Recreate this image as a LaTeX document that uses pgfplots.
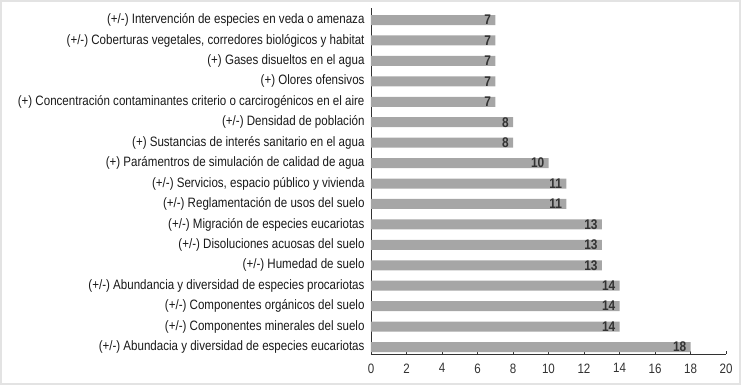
\documentclass[border=0pt]{standalone}
\usepackage{pgfplots}
\pgfplotsset{compat=1.18}
\usepackage{fontspec}
\setmainfont{Liberation Sans}[FakeStretch=0.85]
\definecolor{barc}{RGB}{166,166,166}
\definecolor{axc}{RGB}{50,50,50}
\definecolor{txt}{RGB}{25,25,25}
\begin{document}
\begin{tikzpicture}
\useasboundingbox (0,0) rectangle (741bp,385bp);
\draw[gray!22, line width=1.6bp] (0.8bp,0.8bp) rectangle (740.2bp,384.2bp);
\begin{axis}[
  at={(371bp,31bp)}, anchor=south west,
  scale only axis, width=355bp, height=346bp,
  xmin=0, xmax=20, ymin=-0.34, ymax=16.59,
  xbar, bar width=10bp, bar shift=0pt,
  axis x line=bottom, axis y line=left,
  axis line style={-, draw=axc, line width=0.8bp},
  xtick={0,2,...,20},
  tick align=inside, major tick length=3bp,
  x tick style={draw=axc, line width=0.8bp},
  ytick={0,...,16},
  y tick style={draw=none},
  yticklabels={
    {(+/-) Abundacia y diversidad de especies eucariotas},
    {(+/-) Componentes minerales del suelo},
    {(+/-) Componentes orgánicos del suelo},
    {(+/-) Abundancia y diversidad de especies procariotas},
    {(+/-) Humedad de suelo},
    {(+/-) Disoluciones acuosas del suelo},
    {(+/-) Migración de especies eucariotas},
    {(+/-) Reglamentación de usos del suelo},
    {(+/-) Servicios, espacio público y vivienda},
    {(+) Parámentros de simulación de calidad de agua},
    {(+) Sustancias de interés sanitario en el agua},
    {(+/-) Densidad de población},
    {(+) Concentración contaminantes criterio o carcirogénicos en el aire},
    {(+) Olores ofensivos},
    {(+) Gases disueltos en el agua},
    {(+/-) Coberturas vegetales, corredores biológicos y habitat},
    {(+/-) Intervención de especies en veda o amenaza}},
  yticklabel style={font=\fontsize{13.6bp}{15bp}\selectfont, text=txt, xshift=-3bp},
  xticklabel style={font=\fontsize{13.6bp}{15bp}\selectfont, text=axc, yshift=-6bp},
  /pgf/number format/assume math mode=true,
  nodes near coords,
  every node near coord/.append style={anchor=east, font=\fontsize{14bp}{15bp}\selectfont\bfseries, text=axc, inner sep=1bp, xshift=-3bp},
]
\addplot[fill=barc, draw=none] coordinates {
(18,0) (14,1) (14,2) (14,3) (13,4) (13,5) (13,6) (11,7) (11,8) (10,9)
(8,10) (8,11) (7,12) (7,13) (7,14) (7,15) (7,16)};
\end{axis}
\end{tikzpicture}
\end{document}
